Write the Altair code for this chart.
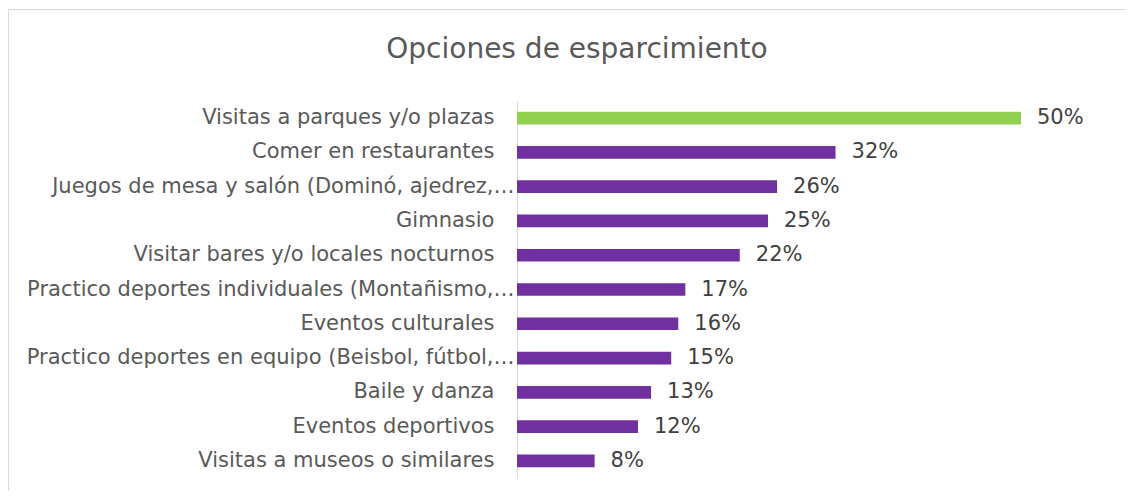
import altair as alt
import pandas as pd

title_text = "Opciones de esparcimiento"
categories = [
    "Visitas a parques y/o plazas",
    "Comer en restaurantes",
    "Juegos de mesa y salón (Dominó, ajedrez,…",
    "Gimnasio",
    "Visitar bares y/o locales nocturnos",
    "Practico deportes individuales (Montañismo,…",
    "Eventos culturales",
    "Practico deportes en equipo (Beisbol, fútbol,…",
    "Baile y danza",
    "Eventos deportivos",
    "Visitas a museos o similares",
]
values = [50.0, 31.6, 25.8, 24.9, 22.1, 16.7, 16.0, 15.3, 13.3, 12.0, 7.7]
highlight = "Visitas a parques y/o plazas"

GREEN = "#92D050"
PURPLE = "#7030A0"
FONT = "DejaVu Sans"

df = pd.DataFrame({"cat": categories, "val": values})

base = alt.Chart(df).encode(
    y=alt.Y(
        "cat:N",
        sort=categories,
        title=None,
        scale=alt.Scale(paddingInner=0.63, paddingOuter=0.315),
        axis=alt.Axis(
            ticks=False,
            domain=True,
            domainColor="#D9D9D9",
            domainWidth=1,
            labelFont=FONT,
            labelFontSize=21,
            labelColor="#595959",
            labelPadding=3,
            labelLimit=600,
            labelExpr="indexof(datum.label, '\u2026') >= 0 ? datum.label : datum.label + '\u00a0\u00a0\u00a0\u200b'",
        ),
    ),
    x=alt.X("val:Q", axis=None, scale=alt.Scale(domain=[0, 50], nice=False, zero=True)),
)

bars = base.mark_bar().encode(
    color=alt.condition(alt.datum.cat == highlight, alt.value(GREEN), alt.value(PURPLE))
)

labels = base.transform_calculate(
    lab="format(datum.val, '.0f') + '%'"
).mark_text(
    align="left", baseline="middle", dx=16, font=FONT, fontSize=21, color="#404040"
).encode(text="lab:N")

frame = alt.Chart(df).mark_rect(
    fill=None, stroke="#D9D9D9", strokeWidth=1
).encode(
    x=alt.value(-509), x2=alt.value(700), y=alt.value(-91.5), y2=alt.value(600)
)

title = alt.Chart(pd.DataFrame({"t": [title_text]})).mark_text(
    align="center", baseline="alphabetic", font=FONT, fontSize=28, color="#595959"
).encode(text="t:N", x=alt.value(60), y=alt.value(-43))

chart = alt.layer(frame, title, bars, labels).properties(
    width=504,
    height=377,
    autosize=alt.AutoSizeParams(type="none"),
    padding={"left": 509, "top": 93, "right": 105, "bottom": 13},
    background="white",
).configure_view(stroke=None)

chart.save("out.html", embed_options={"renderer": "svg", "actions": False})
